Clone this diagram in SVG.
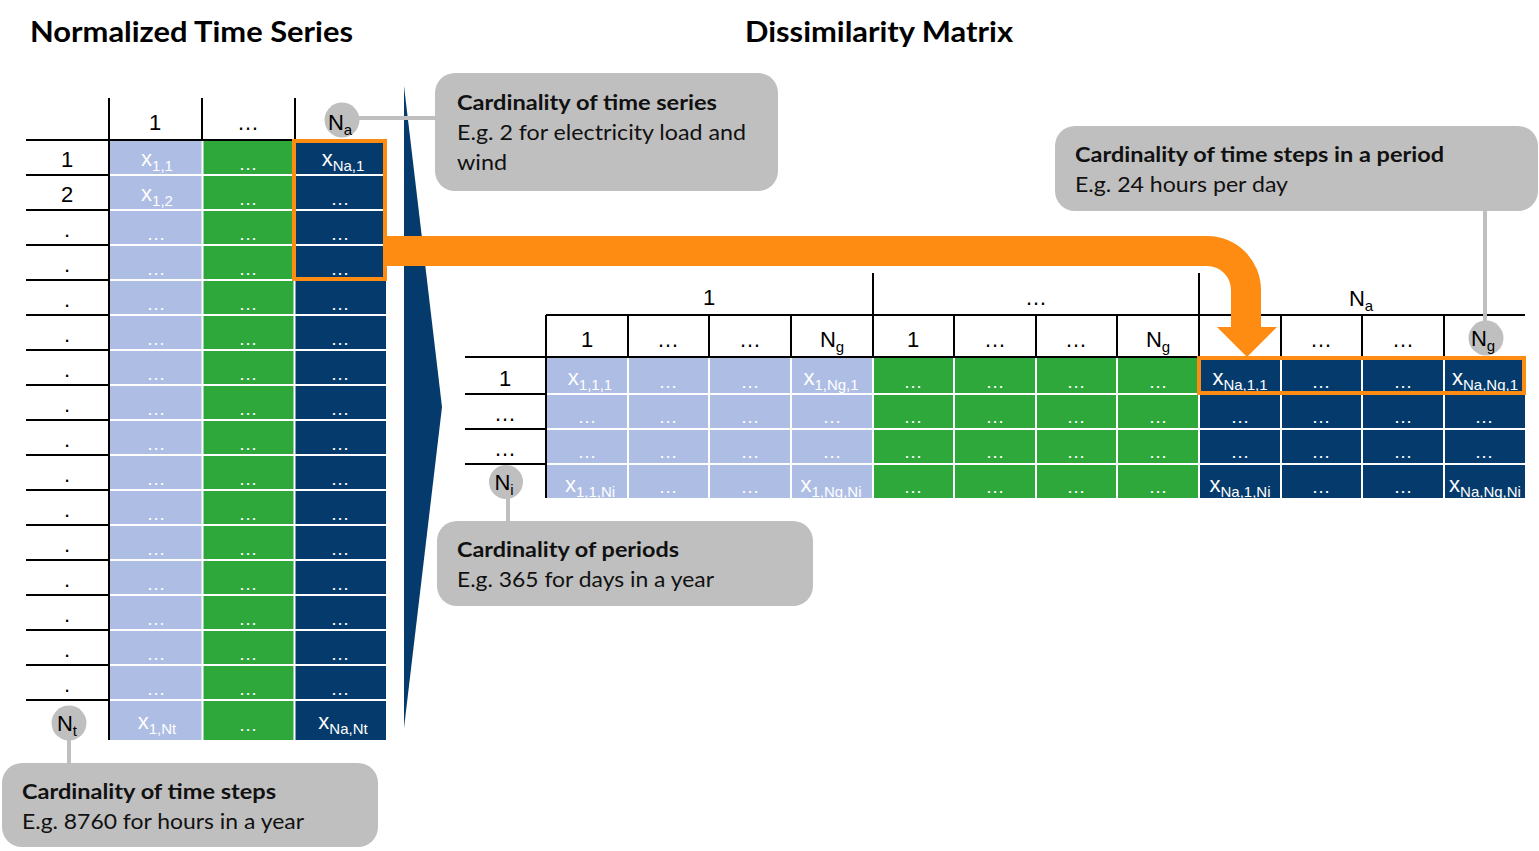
<svg xmlns="http://www.w3.org/2000/svg" width="1539" height="851" viewBox="0 0 1539 851">
<defs>
<style>
.title{font-family:Lato,"Open Sans",sans-serif;font-weight:bold;font-size:28px;fill:#000}
.cb{font-family:Lato,"Open Sans",sans-serif;font-weight:bold;font-size:21px;fill:#111}
.cn{font-family:Lato,"Open Sans",sans-serif;font-size:21px;fill:#111}
.box{fill:#bfbfbf}
.t{font-family:"Liberation Sans",Arial,sans-serif;font-size:22px;fill:#000;text-anchor:middle}
.c{font-family:"Liberation Sans",Arial,sans-serif;font-size:22px;fill:#fff;text-anchor:middle}
.d{font-family:"Liberation Sans",Arial,sans-serif;font-size:19px;fill:#fff;text-anchor:middle}
.s{font-size:15px}
.blk{stroke:#000;stroke-width:2;fill:none}
.wht{stroke:#fff;stroke-width:2;fill:none}
.gl{stroke:#bfbfbf;stroke-width:4;fill:none}
.lb{fill:#aebde4}
.gr{fill:#2ea83a}
.db{fill:#053b6c}
.ob{fill:none;stroke:#ff8c12;stroke-width:4}
</style>
<clipPath id="mclip"><rect x="546" y="357" width="980" height="141"/></clipPath>
</defs>
<rect width="1539" height="851" fill="#fff"/>

<text class="title" x="30" y="42" textLength="323" lengthAdjust="spacingAndGlyphs">Normalized Time Series</text>
<text class="title" x="745" y="42" textLength="268" lengthAdjust="spacingAndGlyphs">Dissimilarity Matrix</text>

<!-- triangle -->
<polygon id="transform" points="404,86 442,407 404,728" fill="#053b6c"/>

<!-- Left table -->
<g id="left-table">
<rect class="lb" x="110" y="140" width="92" height="600"/>
<rect class="gr" x="203" y="140" width="92" height="600"/>
<rect class="db" x="295" y="140" width="91" height="600"/>
<g class="wht">
<path d="M110,175H386M110,210H386M110,245H386M110,280H386M110,315H386M110,350H386M110,385H386M110,420H386M110,455H386M110,490H386M110,525H386M110,560H386M110,595H386M110,630H386M110,665H386M110,700H386"/>
<path d="M202.5,140V740M294.5,140V740"/>
</g>
<g class="blk">
<path d="M109,98V740M202,98V140M295,98V140"/>
<path d="M26,140H295M26,175H109M26,210H109M26,245H109M26,280H109M26,315H109M26,350H109M26,385H109M26,420H109M26,455H109M26,490H109M26,525H109M26,560H109M26,595H109M26,630H109M26,665H109M26,700H109"/>
</g>
<text class="t" x="155" y="130">1</text>
<text class="t" x="248" y="130">…</text>
<g class="t">
<text x="67" y="167">1</text><text x="67" y="202">2</text>
<text x="67" y="237">.</text><text x="67" y="272">.</text><text x="67" y="307">.</text><text x="67" y="342">.</text><text x="67" y="377">.</text><text x="67" y="412">.</text><text x="67" y="447">.</text><text x="67" y="482">.</text><text x="67" y="517">.</text><text x="67" y="552">.</text><text x="67" y="587">.</text><text x="67" y="622">.</text><text x="67" y="657">.</text><text x="67" y="692">.</text>
</g>
<text class="c" x="157" y="166">x<tspan class="s" dy="5">1,1</tspan></text>
<text class="c" x="157" y="201">x<tspan class="s" dy="5">1,2</tspan></text>
<text class="c" x="343" y="166">x<tspan class="s" dy="5">Na,1</tspan></text>
<text class="c" x="157" y="729">x<tspan class="s" dy="5">1,Nt</tspan></text>
<text class="c" x="343" y="729">x<tspan class="s" dy="5">Na,Nt</tspan></text>
<g class="d">
<text x="248" y="170">…</text>
<text x="248" y="205">…</text><text x="340" y="205">…</text>
<text x="156" y="240">…</text><text x="248" y="240">…</text><text x="340" y="240">…</text>
<text x="156" y="275">…</text><text x="248" y="275">…</text><text x="340" y="275">…</text>
<text x="156" y="310">…</text><text x="248" y="310">…</text><text x="340" y="310">…</text>
<text x="156" y="345">…</text><text x="248" y="345">…</text><text x="340" y="345">…</text>
<text x="156" y="380">…</text><text x="248" y="380">…</text><text x="340" y="380">…</text>
<text x="156" y="415">…</text><text x="248" y="415">…</text><text x="340" y="415">…</text>
<text x="156" y="450">…</text><text x="248" y="450">…</text><text x="340" y="450">…</text>
<text x="156" y="485">…</text><text x="248" y="485">…</text><text x="340" y="485">…</text>
<text x="156" y="520">…</text><text x="248" y="520">…</text><text x="340" y="520">…</text>
<text x="156" y="555">…</text><text x="248" y="555">…</text><text x="340" y="555">…</text>
<text x="156" y="590">…</text><text x="248" y="590">…</text><text x="340" y="590">…</text>
<text x="156" y="625">…</text><text x="248" y="625">…</text><text x="340" y="625">…</text>
<text x="156" y="660">…</text><text x="248" y="660">…</text><text x="340" y="660">…</text>
<text x="156" y="695">…</text><text x="248" y="695">…</text><text x="340" y="695">…</text>
<text x="248" y="731">…</text>
</g>
<rect class="ob" x="294" y="141" width="91" height="138"/>
</g>

<!-- Right matrix -->
<g id="matrix">
<rect class="lb" x="546" y="357" width="327" height="141"/>
<rect class="gr" x="873" y="357" width="326" height="141"/>
<rect class="db" x="1199" y="357" width="326" height="141"/>
<g class="wht">
<path d="M628,357V498M709,357V498M791,357V498M873,357V498M954,357V498M1036,357V498M1117,357V498M1199,357V498M1281,357V498M1362,357V498M1444,357V498"/>
<path d="M546,394H1525M546,429H1525M546,464H1525"/>
</g>
<g class="blk">
<path d="M546,315H1525M465,357H1199M465,394H546M465,429H546M465,464H546"/>
<path d="M546,315V498M628,315V357M709,315V357M791,315V357M873,273V357M954,315V357M1036,315V357M1117,315V357M1199,273V357M1281,315V357M1362,315V357M1444,315V357"/>
</g>
<g class="t">
<text x="709" y="305">1</text>
<text x="1036" y="305">…</text>
<text x="1361" y="306">N<tspan class="s" dy="5">a</tspan></text>
<text x="587" y="347">1</text><text x="668" y="347">…</text><text x="750" y="347">…</text><text x="832" y="347">N<tspan class="s" dy="5">g</tspan></text>
<text x="913" y="347">1</text><text x="995" y="347">…</text><text x="1076" y="347">…</text><text x="1158" y="347">N<tspan class="s" dy="5">g</tspan></text>
<text x="1321" y="347">…</text><text x="1403" y="347">…</text>
<text x="505" y="386">1</text><text x="505" y="421">…</text><text x="505" y="456">…</text>
</g>
<g clip-path="url(#mclip)">
<text class="c" x="590" y="385">x<tspan class="s" dy="5">1,1,1</tspan></text>
<text class="c" x="831" y="385">x<tspan class="s" dy="5">1,Ng,1</tspan></text>
<text class="c" x="1240" y="385">x<tspan class="s" dy="5">Na,1,1</tspan></text>
<text class="c" x="1485" y="385">x<tspan class="s" dy="5">Na,Ng,1</tspan></text>
<text class="c" x="590" y="492">x<tspan class="s" dy="5">1,1,Ni</tspan></text>
<text class="c" x="831" y="492">x<tspan class="s" dy="5">1,Ng,Ni</tspan></text>
<text class="c" x="1240" y="492">x<tspan class="s" dy="5">Na,1,Ni</tspan></text>
<text class="c" x="1485" y="492">x<tspan class="s" dy="5">Na,Ng,Ni</tspan></text>
<g class="d">
<text x="668" y="388">…</text><text x="750" y="388">…</text><text x="913" y="388">…</text><text x="995" y="388">…</text><text x="1076" y="388">…</text><text x="1158" y="388">…</text><text x="1321" y="388">…</text><text x="1403" y="388">…</text>
<text x="587" y="423">…</text><text x="668" y="423">…</text><text x="750" y="423">…</text><text x="832" y="423">…</text><text x="913" y="423">…</text><text x="995" y="423">…</text><text x="1076" y="423">…</text><text x="1158" y="423">…</text><text x="1240" y="423">…</text><text x="1321" y="423">…</text><text x="1403" y="423">…</text><text x="1484" y="423">…</text>
<text x="587" y="458">…</text><text x="668" y="458">…</text><text x="750" y="458">…</text><text x="832" y="458">…</text><text x="913" y="458">…</text><text x="995" y="458">…</text><text x="1076" y="458">…</text><text x="1158" y="458">…</text><text x="1240" y="458">…</text><text x="1321" y="458">…</text><text x="1403" y="458">…</text><text x="1484" y="458">…</text>
<text x="668" y="493">…</text><text x="750" y="493">…</text><text x="913" y="493">…</text><text x="995" y="493">…</text><text x="1076" y="493">…</text><text x="1158" y="493">…</text><text x="1321" y="493">…</text><text x="1403" y="493">…</text>
</g>
</g>
<rect class="ob" x="1199" y="358" width="325" height="35"/>
</g>

<!-- connectors -->
<g id="connectors">
<path id="orange-arrow" d="M386,236H1207A54,54 0 0 1 1261,290V327H1277L1247,357L1217,327H1231V290A24,24 0 0 0 1207,266H386Z" fill="#ff8c12"/>
<path class="gl" d="M357,118H437"/>
<path class="gl" d="M69,738V765"/>
<path class="gl" d="M508,498V523"/>
<path class="gl" d="M1485,210V323"/>
</g>

<!-- markers -->
<g id="marker-na"><circle cx="342" cy="120" r="17.5" fill="#bfbfbf"/><text class="t" x="340" y="130">N<tspan class="s" dy="5">a</tspan></text></g>
<g id="marker-nt"><circle cx="69" cy="723" r="17.5" fill="#bfbfbf"/><text class="t" x="67" y="731">N<tspan class="s" dy="5">t</tspan></text></g>
<g id="marker-ni"><circle cx="506" cy="482" r="17" fill="#bfbfbf"/><text class="t" x="504" y="490">N<tspan class="s" dy="5">i</tspan></text></g>
<g id="marker-ng"><circle cx="1486" cy="338" r="17.5" fill="#bfbfbf"/><text class="t" x="1483" y="346">N<tspan class="s" dy="5">g</tspan></text></g>

<!-- callouts -->
<g id="callout-series">
<rect class="box" x="435" y="73" width="343" height="118" rx="20"/>
<text class="cb" x="457" y="110" textLength="260" lengthAdjust="spacingAndGlyphs">Cardinality of time series</text>
<text class="cn" x="457" y="140" textLength="289" lengthAdjust="spacingAndGlyphs">E.g. 2 for electricity load and</text>
<text class="cn" x="457" y="170" textLength="50" lengthAdjust="spacingAndGlyphs">wind</text>
</g>
<g id="callout-period-steps">
<rect class="box" x="1055" y="126" width="483" height="85" rx="20"/>
<text class="cb" x="1075" y="162" textLength="369" lengthAdjust="spacingAndGlyphs">Cardinality of time steps in a period</text>
<text class="cn" x="1075" y="192" textLength="213" lengthAdjust="spacingAndGlyphs">E.g. 24 hours per day</text>
</g>
<g id="callout-periods">
<rect class="box" x="437" y="521" width="376" height="85" rx="20"/>
<text class="cb" x="457" y="557" textLength="222" lengthAdjust="spacingAndGlyphs">Cardinality of periods</text>
<text class="cn" x="457" y="587" textLength="257" lengthAdjust="spacingAndGlyphs">E.g. 365 for days in a year</text>
</g>
<g id="callout-steps">
<rect class="box" x="2" y="763" width="376" height="84" rx="20"/>
<text class="cb" x="22" y="799" textLength="254" lengthAdjust="spacingAndGlyphs">Cardinality of time steps</text>
<text class="cn" x="22" y="829" textLength="282" lengthAdjust="spacingAndGlyphs">E.g. 8760 for hours in a year</text>
</g>
</svg>
